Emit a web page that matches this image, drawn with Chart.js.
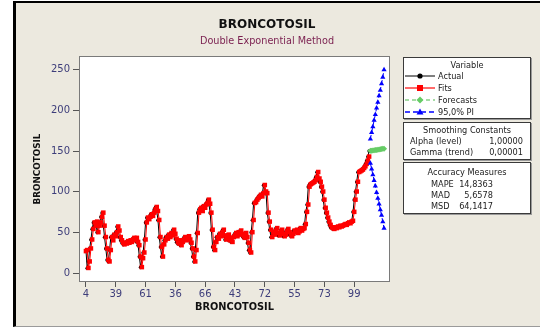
<!DOCTYPE html>
<html><head><meta charset="utf-8">
<script src="https://cdn.jsdelivr.net/npm/chart.js@4.4.1/dist/chart.umd.min.js"></script>
<style>
html,body{margin:0;padding:0;background:#fff;}
body{width:540px;height:329px;position:relative;overflow:hidden;font-family:"DejaVu Sans",sans-serif;}
#frame{position:absolute;left:13px;top:1px;width:524px;height:323px;background:#ECE9DF;border-left:3px solid #000;border-top:2px solid #000;border-bottom:1px solid #9a9a9a;}
#c{position:absolute;left:0;top:0;}
.ttl{position:absolute;left:167px;width:200px;text-align:center;white-space:nowrap;}
.box{position:absolute;background:#fff;border:1px solid #3a3a3a;box-shadow:1px 1px 0 #9a9a9a;font-size:8.2px;color:#222;}
.box span{position:absolute;white-space:nowrap;line-height:10px;}
.box svg{position:absolute;}
</style>
</head><body>
<div id="frame"></div>
<canvas id="c" width="540" height="329"></canvas>
<div class="ttl" style="top:17px;font-size:12px;font-weight:bold;color:#111;">BRONCOTOSIL</div>
<div class="ttl" style="top:35px;font-size:9.7px;color:#7a1f4f;">Double Exponential Method</div>

<div class="box" style="left:403px;top:57px;width:126px;height:60px;">
  <span style="left:0;width:126px;text-align:center;top:2px;">Variable</span>
  <svg style="left:1px;top:13px" width="30" height="10"><line x1="0" y1="5" x2="30" y2="5" stroke="#000" stroke-width="1"/><circle cx="15" cy="5" r="2.6" fill="#000"/></svg>
  <span style="left:34px;top:13px;">Actual</span>
  <svg style="left:1px;top:25px" width="30" height="10"><line x1="0" y1="5" x2="30" y2="5" stroke="#ff6a6a" stroke-width="2"/><rect x="12" y="2" width="6" height="6" fill="#ff0000"/></svg>
  <span style="left:34px;top:25px;">Fits</span>
  <svg style="left:1px;top:37px" width="30" height="10"><line x1="0" y1="5" x2="30" y2="5" stroke="#88d088" stroke-width="1.5" stroke-dasharray="4,3"/><polygon points="15,1.5 18.5,5 15,8.5 11.5,5" fill="#66cc66"/></svg>
  <span style="left:34px;top:37px;">Forecasts</span>
  <svg style="left:1px;top:49px" width="30" height="10"><line x1="0" y1="5" x2="30" y2="5" stroke="#0000ff" stroke-width="1.5" stroke-dasharray="5,3"/><polygon points="15,1.5 18.5,7.5 11.5,7.5" fill="#0000ff"/></svg>
  <span style="left:34px;top:49px;">95,0% PI</span>
</div>

<div class="box" style="left:403px;top:122px;width:126px;height:36px;">
  <span style="left:0;width:126px;text-align:center;top:2px;">Smoothing Constants</span>
  <span style="left:6px;top:13px;">Alpha (level)</span>
  <span style="right:7px;top:13px;">1,00000</span>
  <span style="left:6px;top:24px;">Gamma (trend)</span>
  <span style="right:7px;top:24px;">0,00001</span>
</div>

<div class="box" style="left:403px;top:162px;width:126px;height:50px;">
  <span style="left:0;width:126px;text-align:center;top:4px;">Accuracy Measures</span>
  <span style="left:27px;top:16px;">MAPE</span>
  <span style="right:37px;top:16px;">14,8363</span>
  <span style="left:27px;top:27px;">MAD</span>
  <span style="right:37px;top:27px;">5,6578</span>
  <span style="left:27px;top:38px;">MSD</span>
  <span style="right:37px;top:38px;">64,1417</span>
</div>

<script>
const actual = [
 28, 6, 14, 30,
 41, 54, 62, 58, 63, 50, 58, 62, 69, 74,
 58, 44, 30, 16, 14,
 28, 44, 40, 47, 45, 50, 57, 52,
 44, 40, 37, 35, 37, 36, 39, 37, 40, 38, 41, 43, 40, 43, 38, 34,
 20, 7, 18, 25,
 41, 62, 68, 66, 69, 72, 70, 74, 78, 81, 76,
 65, 44, 32, 20,
 35, 40, 44, 42, 47, 44, 49, 46, 53, 48,
 42, 38, 36, 40, 34, 38, 41, 44, 40, 43, 45, 41, 37,
 30, 20, 14, 28, 49,
 74, 78, 80, 76, 82, 80, 84, 86, 90, 85,
 74, 53, 32, 28, 38, 44,
 42, 48, 45, 50, 53, 46, 41, 44, 47, 40, 43, 38, 44, 46, 49, 45, 50, 47, 52, 48, 45, 43, 49, 44, 37,
 28, 25,
 50, 65, 86, 87, 90, 92, 94, 96, 94, 98, 108, 100, 98, 74, 63, 53, 44,
 50, 47, 52, 55, 49, 46, 50, 53, 48, 45, 47, 51, 54, 50, 47, 45, 48, 52, 50, 53, 49, 51, 55, 52, 54,
 55, 60, 75, 84, 106, 109, 110, 111, 112, 114, 118, 124, 116, 112, 106, 100, 90, 80, 74, 68, 63, 59, 56,
 55, 54, 56, 55, 57, 56, 58, 57, 58, 59, 60, 59, 61, 62, 61, 63, 64,
 75, 90, 100, 112, 124, 125, 126, 127, 129, 131, 134, 138, 143, 150
];
const fits = [
 27, 28.3, 6.3, 14.3,
 30.3, 41.3, 54.3, 62.3, 58.3, 63.3, 50.3, 58.3, 62.3, 69.3,
 74.3, 58.3, 44.3, 30.3, 16.3,
 14.3, 28.3, 44.3, 40.3, 47.3, 45.3, 50.3, 57.3,
 52.3, 44.3, 40.3, 37.3, 35.3, 37.3, 36.3, 39.3, 37.3, 40.3, 38.3, 41.3, 43.3, 40.3, 43.3, 38.3,
 34.3, 20.3, 7.3, 18.3,
 25.3, 41.3, 62.3, 68.3, 66.3, 69.3, 72.3, 70.3, 74.3, 78.3, 81.3,
 76.3, 65.3, 44.3, 32.3,
 20.3, 35.3, 40.3, 44.3, 42.3, 47.3, 44.3, 49.3, 46.3, 53.3,
 48.3, 42.3, 38.3, 36.3, 40.3, 34.3, 38.3, 41.3, 44.3, 40.3, 43.3, 45.3, 41.3,
 37.3, 30.3, 20.3, 14.3, 28.3,
 49.3, 74.3, 78.3, 80.3, 76.3, 82.3, 80.3, 84.3, 86.3, 90.3,
 85.3, 74.3, 53.3, 32.3, 28.3, 38.3,
 44.3, 42.3, 48.3, 45.3, 50.3, 53.3, 46.3, 41.3, 44.3, 47.3, 40.3, 43.3, 38.3, 44.3, 46.3, 49.3, 45.3, 50.3, 47.3, 52.3, 48.3, 45.3, 43.3, 49.3, 44.3,
 37.3, 28.3,
 25.3, 50.3, 65.3, 86.3, 87.3, 90.3, 92.3, 94.3, 96.3, 94.3, 98.3, 108.3, 100.3, 98.3, 74.3, 63.3, 53.3,
 44.3, 50.3, 47.3, 52.3, 55.3, 49.3, 46.3, 50.3, 53.3, 48.3, 45.3, 47.3, 51.3, 54.3, 50.3, 47.3, 45.3, 48.3, 52.3, 50.3, 53.3, 49.3, 51.3, 55.3, 52.3,
 54.3, 55.3, 60.3, 75.3, 84.3, 106.3, 109.3, 110.3, 111.3, 112.3, 114.3, 118.3, 124.3, 116.3, 112.3, 106.3, 100.3, 90.3, 80.3, 74.3, 68.3, 63.3, 59.3,
 56.3, 55.3, 54.3, 56.3, 55.3, 57.3, 56.3, 58.3, 57.3, 58.3, 59.3, 60.3, 59.3, 61.3, 62.3, 61.3, 63.3,
 64.3, 75.3, 90.3, 100.3, 112.3, 124.3, 125.3, 126.3, 127.3, 129.3, 131.3, 134.3, 138.3, 143.3
];
const forecasts = [150.3, 150.5, 150.8, 151.0, 151.3, 151.5, 151.8, 152.0, 152.3, 152.5, 152.8, 153.0];
const piUpper = [165, 173, 180, 188, 195, 203, 210, 218, 225, 233, 241, 250];
const piLower = [135, 128, 121, 114, 107, 99, 92, 85, 78, 71, 63, 55];
const tickPositions = [1, 25, 49, 73, 97, 121, 145, 169, 193, 217];
const tickLabels = ['4', '39', '61', '36', '66', '43', '72', '55', '73', '99'];
const yTicks = [0, 50, 100, 150, 200, 250];

const n = actual.length;
const pts = (arr, start) => arr.map((v, i) => ({x: start + i, y: v}));

const plotFrame = {
  id: 'plotFrame',
  beforeDraw(chart) {
    const {ctx, chartArea: a} = chart;
    ctx.save(); ctx.fillStyle = '#ffffff';
    ctx.fillRect(a.left, a.top, a.right - a.left, a.bottom - a.top);
    ctx.restore();
  },
  afterDraw(chart) {
    const {ctx, chartArea: a} = chart;
    ctx.save(); ctx.strokeStyle = '#7a7a7a'; ctx.lineWidth = 1;
    ctx.strokeRect(a.left + 0.5, a.top + 0.5, a.right - a.left - 1, a.bottom - a.top - 1);
    ctx.restore();
  }
};

new Chart(document.getElementById('c'), {
  type: 'line',
  data: {
    datasets: [
      {label: 'Forecasts', data: pts(forecasts, n + 1), borderColor: '#66cc66', backgroundColor: '#66cc66',
       borderWidth: 1, borderDash: [4, 3], pointStyle: 'rectRot', pointRadius: 3, pointBorderWidth: 0, order: 0},
      {label: '95,0% PI', data: pts(piUpper, n + 1), borderColor: '#0000ff', backgroundColor: '#0000ff',
       borderWidth: 1, borderDash: [4, 3], pointStyle: 'triangle', pointRadius: 3, pointBorderWidth: 0, order: 0},
      {label: '95,0% PI lower', data: pts(piLower, n + 1), borderColor: '#0000ff', backgroundColor: '#0000ff',
       borderWidth: 1, borderDash: [4, 3], pointStyle: 'triangle', pointRadius: 3, pointBorderWidth: 0, order: 0},
      {label: 'Fits', data: pts(fits, 1), borderColor: '#ff0000', backgroundColor: '#ff0000',
       borderWidth: 1, pointStyle: 'rect', pointRadius: 3.2, pointBorderWidth: 0, order: 1},
      {label: 'Actual', data: pts(actual, 1), borderColor: '#000000', backgroundColor: '#000000',
       borderWidth: 1, pointStyle: 'circle', pointRadius: 1.8, pointBorderWidth: 0, order: 2}
    ]
  },
  options: {
    responsive: false, animation: false, devicePixelRatio: 1,
    layout: {padding: {left: 0, top: 56, right: 150, bottom: 0}},
    elements: {line: {tension: 0}},
    plugins: {legend: {display: false}, tooltip: {enabled: false}, title: {display: false}},
    scales: {
      x: {
        type: 'linear', min: -4.6, max: 245.8,
        grid: {drawOnChartArea: false, drawTicks: true, tickLength: 5, color: '#555'},
        border: {display: false},
        afterBuildTicks: s => { s.ticks = tickPositions.map(v => ({value: v})); },
        afterFit: s => { s.height = 47; },
        ticks: {color: '#3d3d7a', font: {family: 'DejaVu Sans', size: 10}, padding: 1, maxRotation: 0, autoSkip: false,
                callback: (v, i) => tickLabels[i]},
        title: {display: true, text: 'BRONCOTOSIL', color: '#111', font: {family: 'DejaVu Sans', size: 9.8, weight: 'bold'},
                padding: {top: 0, bottom: 16}}
      },
      y: {
        type: 'linear', min: -11, max: 267,
        grid: {drawOnChartArea: false, drawTicks: true, tickLength: 6, color: '#555'},
        border: {display: false},
        afterBuildTicks: s => { s.ticks = yTicks.map(v => ({value: v})); },
        afterFit: s => { s.width = 79; },
        ticks: {color: '#3d3d7a', font: {family: 'DejaVu Sans', size: 10}, padding: 3},
        title: {display: true, text: 'BRONCOTOSIL', color: '#111', font: {family: 'DejaVu Sans', size: 8.8, weight: 'bold'},
                padding: {top: 32, bottom: 0}}
      }
    }
  },
  plugins: [plotFrame]
});
</script>
</body></html>
